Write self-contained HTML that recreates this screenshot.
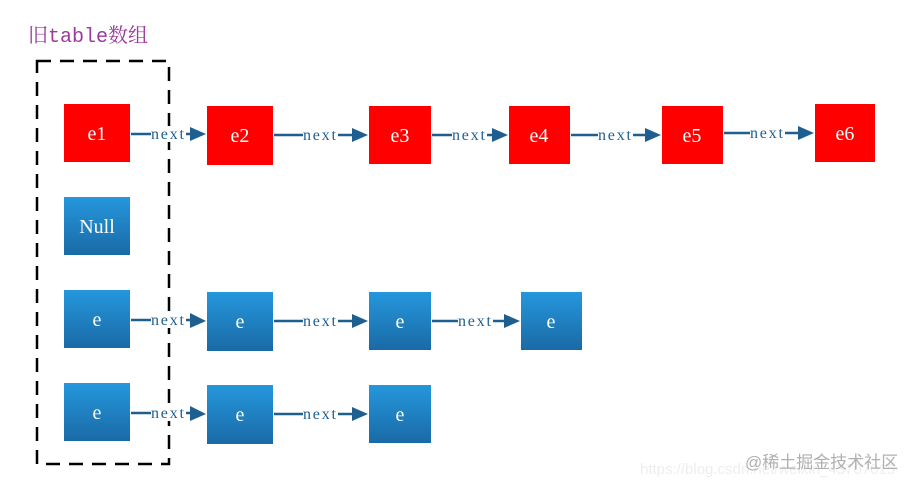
<!DOCTYPE html>
<html><head><meta charset="utf-8"><style>
html,body{margin:0;padding:0;background:#fff;}
svg{display:block}
</style></head><body>
<svg width="921" height="487" viewBox="0 0 921 487" xmlns="http://www.w3.org/2000/svg">
<defs>
<linearGradient id="bl" x1="0" y1="0" x2="0" y2="1">
<stop offset="0" stop-color="#2597dc"/><stop offset="1" stop-color="#1a6aa6"/>
</linearGradient>
</defs>
<text x="28" y="42" font-family="Liberation Mono, Noto Serif CJK SC, monospace" font-size="20" fill="#9b3a9b">旧table数组</text>
<rect x="37" y="61" width="132" height="403" fill="none" stroke="#000" stroke-width="2.5" stroke-dasharray="14,9"/>

<g font-family="Liberation Serif, serif" font-size="20" fill="#fff" text-anchor="middle">
<rect x="64" y="104" width="66" height="58" fill="#ff0000"/><text x="97" y="140">e1</text>
<rect x="207" y="106" width="66" height="59" fill="#ff0000"/><text x="240" y="142">e2</text>
<rect x="369" y="106" width="62" height="58" fill="#ff0000"/><text x="400" y="142">e3</text>
<rect x="509" y="106" width="61" height="58" fill="#ff0000"/><text x="539" y="142">e4</text>
<rect x="662" y="106" width="61" height="58" fill="#ff0000"/><text x="692" y="142">e5</text>
<rect x="815" y="104" width="60" height="58" fill="#ff0000"/><text x="845" y="140">e6</text>

<rect x="64" y="197" width="66" height="58" fill="url(#bl)"/><text x="97" y="233">Null</text>

<rect x="64" y="290" width="66" height="58" fill="url(#bl)"/><text x="97" y="326">e</text>
<rect x="207" y="292" width="66" height="59" fill="url(#bl)"/><text x="240" y="328">e</text>
<rect x="369" y="292" width="62" height="58" fill="url(#bl)"/><text x="400" y="328">e</text>
<rect x="521" y="292" width="61" height="58" fill="url(#bl)"/><text x="551" y="328">e</text>

<rect x="64" y="383" width="66" height="58" fill="url(#bl)"/><text x="97" y="419">e</text>
<rect x="207" y="385" width="66" height="59" fill="url(#bl)"/><text x="240" y="421">e</text>
<rect x="369" y="385" width="62" height="58" fill="url(#bl)"/><text x="400" y="421">e</text>
</g>

<g stroke="#1f5f8f" stroke-width="2.5" fill="#1f5f8f" font-family="Liberation Serif, serif" font-size="16" letter-spacing="1.8">
<!-- row1 -->
<line x1="131" y1="134" x2="195" y2="134"/><rect x="151" y="126" width="35" height="16" fill="#fff" stroke="none"/><text x="151" y="139" stroke="none">next</text><polygon points="190,127 206,134 190,141" stroke="none"/>
<line x1="274" y1="135" x2="357" y2="135"/><rect x="303" y="127" width="35" height="16" fill="#fff" stroke="none"/><text x="303" y="140" stroke="none">next</text><polygon points="352,128 368,135 352,142" stroke="none"/>
<line x1="432" y1="135" x2="497" y2="135"/><rect x="452" y="127" width="35" height="16" fill="#fff" stroke="none"/><text x="452" y="140" stroke="none">next</text><polygon points="492,128 508,135 492,142" stroke="none"/>
<line x1="571" y1="135" x2="650" y2="135"/><rect x="598" y="127" width="35" height="16" fill="#fff" stroke="none"/><text x="598" y="140" stroke="none">next</text><polygon points="645,128 661,135 645,142" stroke="none"/>
<line x1="724" y1="133" x2="803" y2="133"/><rect x="750" y="125" width="35" height="16" fill="#fff" stroke="none"/><text x="750" y="138" stroke="none">next</text><polygon points="798,126 814,133 798,140" stroke="none"/>
<!-- row3 -->
<line x1="131" y1="320" x2="195" y2="320"/><rect x="151" y="312" width="35" height="16" fill="#fff" stroke="none"/><text x="151" y="325" stroke="none">next</text><polygon points="190,313 206,321 190,328" stroke="none"/>
<line x1="274" y1="321" x2="357" y2="321"/><rect x="303" y="313" width="35" height="16" fill="#fff" stroke="none"/><text x="303" y="326" stroke="none">next</text><polygon points="352,314 368,321 352,328" stroke="none"/>
<line x1="432" y1="321" x2="509" y2="321"/><rect x="458" y="313" width="35" height="16" fill="#fff" stroke="none"/><text x="458" y="326" stroke="none">next</text><polygon points="504,314 520,321 504,328" stroke="none"/>
<!-- row4 -->
<line x1="131" y1="413" x2="195" y2="413"/><rect x="151" y="405" width="35" height="16" fill="#fff" stroke="none"/><text x="151" y="418" stroke="none">next</text><polygon points="190,406 206,414 190,421" stroke="none"/>
<line x1="274" y1="414" x2="357" y2="414"/><rect x="303" y="406" width="35" height="16" fill="#fff" stroke="none"/><text x="303" y="419" stroke="none">next</text><polygon points="352,407 368,414 352,421" stroke="none"/>
</g>

<text x="640" y="474" font-family="Liberation Sans, sans-serif" font-size="15" fill="#eeeeee">https://blog.csdn.net/weixin_43707015</text>
<text x="745" y="468" font-family="Liberation Sans, Noto Sans CJK SC, sans-serif" font-size="17" fill="#b0b0b0">@稀土掘金技术社区</text>
</svg>
</body></html>
